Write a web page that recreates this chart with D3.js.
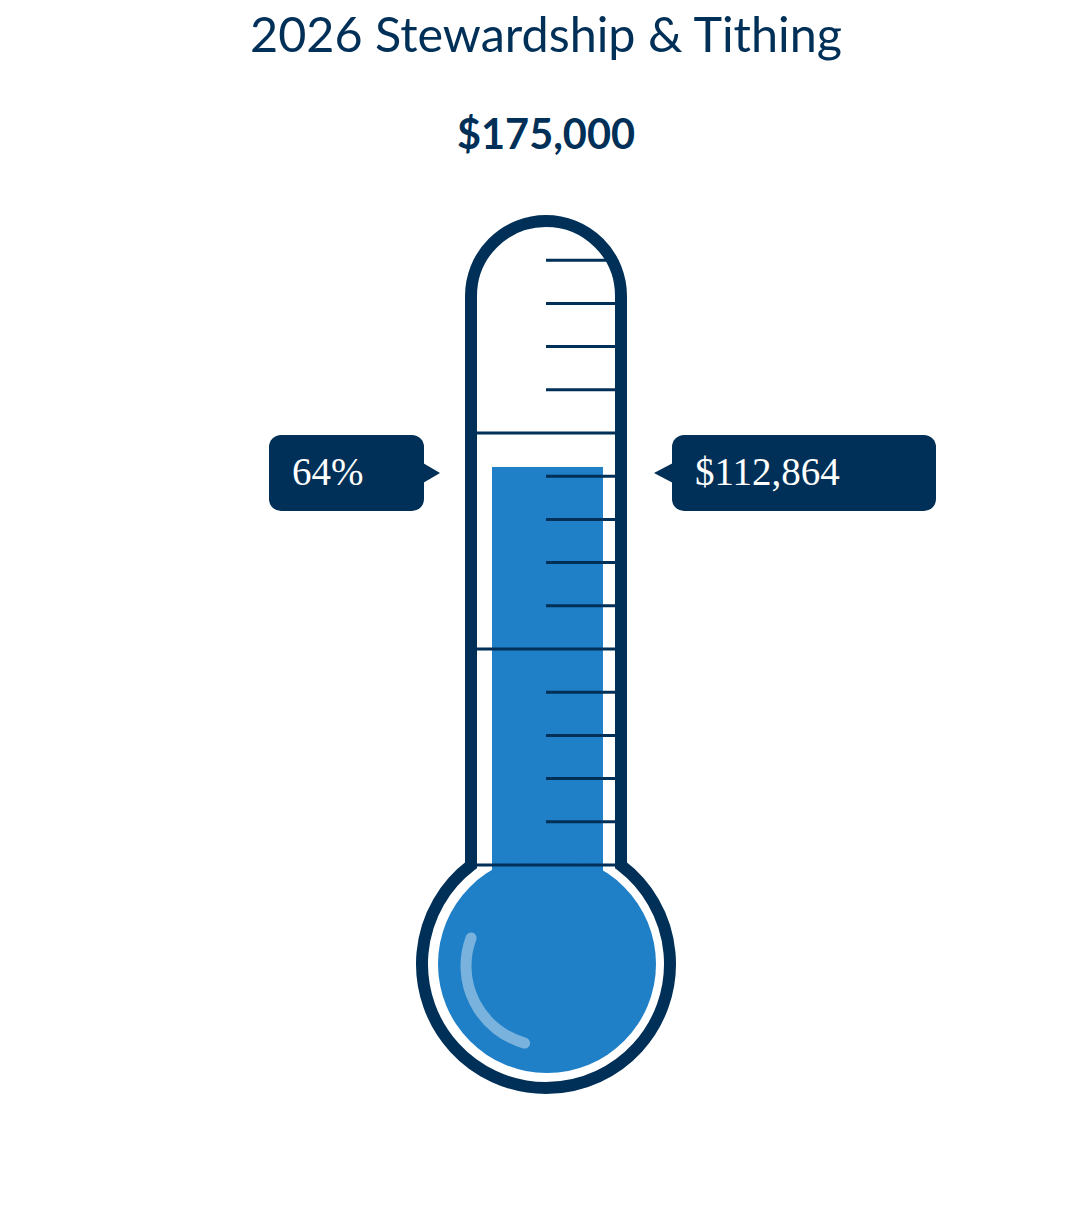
<!DOCTYPE html>
<html>
<head>
<meta charset="utf-8">
<script src="https://cdn.jsdelivr.net/npm/d3@7"></script>
<style>
  body { margin: 0; background: #fff; }
</style>
</head>
<body>
<div id="chart"></div>
<script>
// values
const title = ['2026 Stewardship & Tithing'];
const goal = [175000];
const raised = [112864];
// scale divisions on the tube (0 = bottom of the tube), every 5th is a full line
const divisions = d3.range(0, 15);

const width = 1092;
const height = 1226;
const navy = '#003057';
const blue = '#1f7fc7';

const svg = d3.select('#chart')
   .append('svg')
   .attr('width', width)
   .attr('height', height);

const cx = width / 2;
const tubeHalf = 75;      // centre line of the wall
const wall = 12;
const tubeTop = 221;
const bulbY = 964;
const bulbR = 124;

// tick scale on the tube and the scale used for the liquid
const tickScale = d3.scaleLinear()
   .domain([0, 15])
   .range([865, 217]);
const fillScale = d3.scaleLinear()
   .domain([0, goal[0]])
   .range([921, 217]);

// titles
const t = svg.append('text')
   .attr('x', cx)
   .attr('y', 52)
   .attr('text-anchor', 'middle')
   .attr('fill', navy)
   .style('font-family', 'Lato, "Noto Sans", sans-serif')
   .style('font-size', '44px')
   .text(title[0]);
t.style('font-size', (44 * 592 / t.node().getComputedTextLength()) + 'px');

const g = svg.append('text')
   .attr('x', cx)
   .attr('y', 149)
   .attr('text-anchor', 'middle')
   .attr('fill', navy)
   .style('font-family', 'Lato, "Noto Sans", sans-serif')
   .style('font-weight', 'bold')
   .style('font-size', '40px')
   .text('$' + d3.format(',')(goal[0]));
g.style('font-size', (40 * 178 / g.node().getComputedTextLength()) + 'px');

// outline of the thermometer
const jy = bulbY - Math.sqrt(bulbR * bulbR - tubeHalf * tubeHalf);
const a0 = Math.atan2(jy - bulbY, tubeHalf);
const outline = d3.path();
outline.moveTo(cx - tubeHalf, jy);
outline.lineTo(cx - tubeHalf, tubeTop + tubeHalf);
outline.arc(cx, tubeTop + tubeHalf, tubeHalf, Math.PI, 0);
outline.lineTo(cx + tubeHalf, jy);
outline.arc(cx, bulbY, bulbR, a0, Math.PI - a0, false);
outline.closePath();

svg.append('path')
   .attr('d', outline.toString())
   .attr('fill', '#fff');

// liquid
svg.append('rect')
   .attr('x', cx - 54)
   .attr('y', fillScale(raised[0]))
   .attr('width', 111)
   .attr('height', 900 - fillScale(raised[0]))
   .attr('fill', blue);

svg.append('circle')
   .attr('cx', cx + 1)
   .attr('cy', bulbY)
   .attr('r', 109)
   .attr('fill', blue);

// scale lines
svg.selectAll('.tick')
   .data(divisions)
   .enter()
   .append('line')
   .classed('tick', true)
   .attr('x1', d => d % 5 === 0 ? cx - tubeHalf + wall / 2 : cx)
   .attr('x2', cx + tubeHalf - wall / 2)
   .attr('y1', d => tickScale(d))
   .attr('y2', d => tickScale(d))
   .attr('stroke', navy)
   .attr('stroke-width', 3);

// highlight on the bulb
const shine = d3.path();
shine.arc(cx, bulbY + 2, 80, 105.5 * Math.PI / 180, 200.5 * Math.PI / 180);
svg.append('path')
   .attr('d', shine.toString())
   .attr('fill', 'none')
   .attr('stroke', '#fff')
   .attr('stroke-opacity', 0.4)
   .attr('stroke-width', 11)
   .attr('stroke-linecap', 'round');

svg.append('path')
   .attr('d', outline.toString())
   .attr('fill', 'none')
   .attr('stroke', navy)
   .attr('stroke-width', wall);

// call-outs
const ly = fillScale(raised[0]) + 6;
const labels = [
   { text: Math.round(raised[0] / goal[0] * 100) + '%', x: 269, w: 155, side: 'right' },
   { text: '$' + d3.format(',')(raised[0]), x: 672, w: 264, side: 'left' }
];

const lab = svg.selectAll('.label')
   .data(labels)
   .enter()
   .append('g')
   .classed('label', true);

lab.append('rect')
   .attr('x', d => d.x)
   .attr('y', ly - 38)
   .attr('width', d => d.w)
   .attr('height', 76)
   .attr('rx', 12)
   .attr('fill', navy);

lab.append('path')
   .attr('d', d => d.side === 'right'
      ? `M${d.x + d.w - 1},${ly - 10}L${d.x + d.w + 16},${ly}L${d.x + d.w - 1},${ly + 10}Z`
      : `M${d.x + 1},${ly - 10}L${d.x - 18},${ly}L${d.x + 1},${ly + 10}Z`)
   .attr('fill', navy);

lab.append('text')
   .attr('x', d => d.x + 23)
   .attr('y', ly + 12)
   .attr('fill', '#fff')
   .style('font-family', '"Liberation Serif", "Times New Roman", serif')
   .style('font-size', '39px')
   .text(d => d.text);
</script>
</body>
</html>
